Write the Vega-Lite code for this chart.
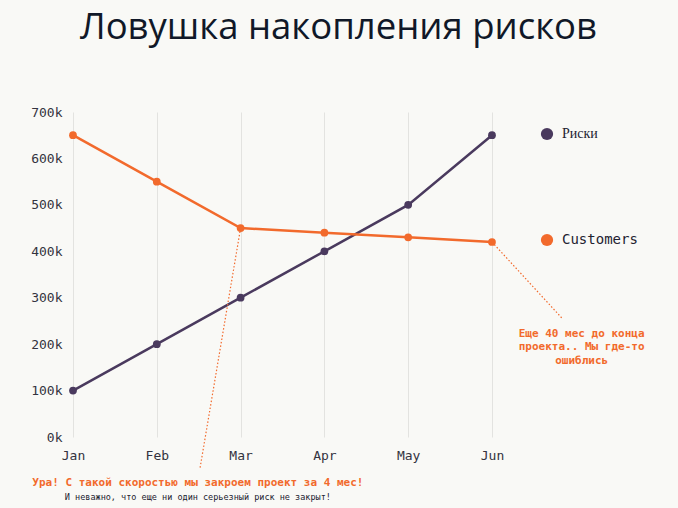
{
  "$schema": "https://vega.github.io/schema/vega-lite/v6.json",
  "autosize": "none",
  "width": 605,
  "height": 325,
  "padding": {"left": 73, "top": 112, "right": 0, "bottom": 71},
  "background": "#f9f9f6",
  "title": {
    "text": "Ловушка накопления рисков",
    "font": "Open Sans",
    "fontSize": 36.5,
    "fontWeight": "normal",
    "color": "#101828",
    "anchor": "start",
    "frame": "group",
    "dx": 7,
    "offset": 60
  },
  "datasets": {
    "series": [
      {"m": 0, "month": "Jan", "series": "Риски", "value": 100000},
      {"m": 1, "month": "Feb", "series": "Риски", "value": 200000},
      {"m": 2, "month": "Mar", "series": "Риски", "value": 300000},
      {"m": 3, "month": "Apr", "series": "Риски", "value": 400000},
      {"m": 4, "month": "May", "series": "Риски", "value": 500000},
      {"m": 5, "month": "Jun", "series": "Риски", "value": 650000},
      {"m": 0, "month": "Jan", "series": "Customers", "value": 650000},
      {"m": 1, "month": "Feb", "series": "Customers", "value": 550000},
      {"m": 2, "month": "Mar", "series": "Customers", "value": 450000},
      {"m": 3, "month": "Apr", "series": "Customers", "value": 440000},
      {"m": 4, "month": "May", "series": "Customers", "value": 430000},
      {"m": 5, "month": "Jun", "series": "Customers", "value": 420000}
    ],
    "pointers": [
      {"x": 5, "y": 420000, "x2": 5.835, "y2": 256000},
      {"x": 2, "y": 450000, "x2": 1.516, "y2": -67000}
    ],
    "notes": [
      {"x": 6.07, "y": 222000, "text": "Еще 40 мес до конца", "kind": "big"},
      {"x": 6.07, "y": 193000, "text": "проекта.. Мы где-то", "kind": "big"},
      {"x": 6.07, "y": 164000, "text": "ошиблись", "kind": "big"},
      {"x": 1.49, "y": -100000, "text": "Ура! С такой скоростью мы закроем проект за 4 мес!", "kind": "big"},
      {"x": 1.49, "y": -129000, "text": "И неважно, что еще ни один серьезный риск не закрыт!", "kind": "small"}
    ]
  },
  "layer": [
    {
      "data": {"name": "series"},
      "mark": {"type": "line", "strokeWidth": 2.5, "point": {"filled": true, "size": 60}, "clip": false},
      "encoding": {
        "x": {
          "field": "m", "type": "quantitative",
          "scale": {"domain": [0, 7.22], "nice": false, "zero": false},
          "axis": {
            "title": null, "values": [0, 1, 2, 3, 4, 5],
            "labelExpr": "['Jan','Feb','Mar','Apr','May','Jun'][datum.value]",
            "labelFlush": false,
            "domain": false, "ticks": false, "grid": true,
            "gridColor": "#e3e3e0", "gridWidth": 1,
            "labelFont": "DejaVu Sans Mono", "labelFontSize": 13, "labelColor": "#333340",
            "labelPadding": 12
          }
        },
        "y": {
          "field": "value", "type": "quantitative",
          "scale": {"domain": [0, 700000], "nice": false},
          "axis": {
            "title": null, "values": [0, 100000, 200000, 300000, 400000, 500000, 600000, 700000],
            "labelExpr": "(datum.value/1000) + 'k'",
            "labelFlush": false,
            "domain": false, "ticks": false, "grid": false,
            "labelFont": "DejaVu Sans Mono", "labelFontSize": 13, "labelColor": "#333340",
            "labelPadding": 11
          }
        },
        "color": {
          "field": "series", "type": "nominal",
          "scale": {"domain": ["Риски", "Customers"], "range": ["#4a3a5e", "#f26a2c"]},
          "legend": {
            "title": null, "orient": "none", "legendX": 467, "legendY": 15,
            "symbolType": "circle", "symbolSize": 150, "symbolStrokeWidth": 0,
            "rowPadding": 92, "padding": 0, "labelOffset": 8,
            "labelFontSize": 14, "labelColor": "#222230",
            "encode": {
              "symbols": {"update": {"fill": {"scale": "color", "field": "value"}, "strokeWidth": {"value": 0}}},
              "labels": {"update": {"font": {"signal": "datum.value === 'Риски' ? 'Liberation Serif' : 'DejaVu Sans Mono'"}}}
            }
          }
        }
      }
    },
    {
      "data": {"name": "pointers"},
      "mark": {"type": "rule", "color": "#f26a2c", "strokeWidth": 1.2, "strokeDash": [1.5, 2], "clip": false},
      "encoding": {
        "x": {"field": "x", "type": "quantitative"},
        "y": {"field": "y", "type": "quantitative"},
        "x2": {"field": "x2"},
        "y2": {"field": "y2"}
      }
    },
    {
      "data": {"name": "notes"},
      "transform": [{"filter": "datum.kind === 'big'"}],
      "mark": {"type": "text", "font": "DejaVu Sans Mono", "fontSize": 11, "fontWeight": "bold", "color": "#f26a2c", "align": "center", "baseline": "middle", "clip": false},
      "encoding": {
        "x": {"field": "x", "type": "quantitative"},
        "y": {"field": "y", "type": "quantitative"},
        "text": {"field": "text"}
      }
    },
    {
      "data": {"name": "notes"},
      "transform": [{"filter": "datum.kind === 'small'"}],
      "mark": {"type": "text", "font": "DejaVu Sans Mono", "fontSize": 8.5, "color": "#222230", "align": "center", "baseline": "middle", "clip": false},
      "encoding": {
        "x": {"field": "x", "type": "quantitative"},
        "y": {"field": "y", "type": "quantitative"},
        "text": {"field": "text"}
      }
    }
  ],
  "config": {"view": {"stroke": null}}
}
